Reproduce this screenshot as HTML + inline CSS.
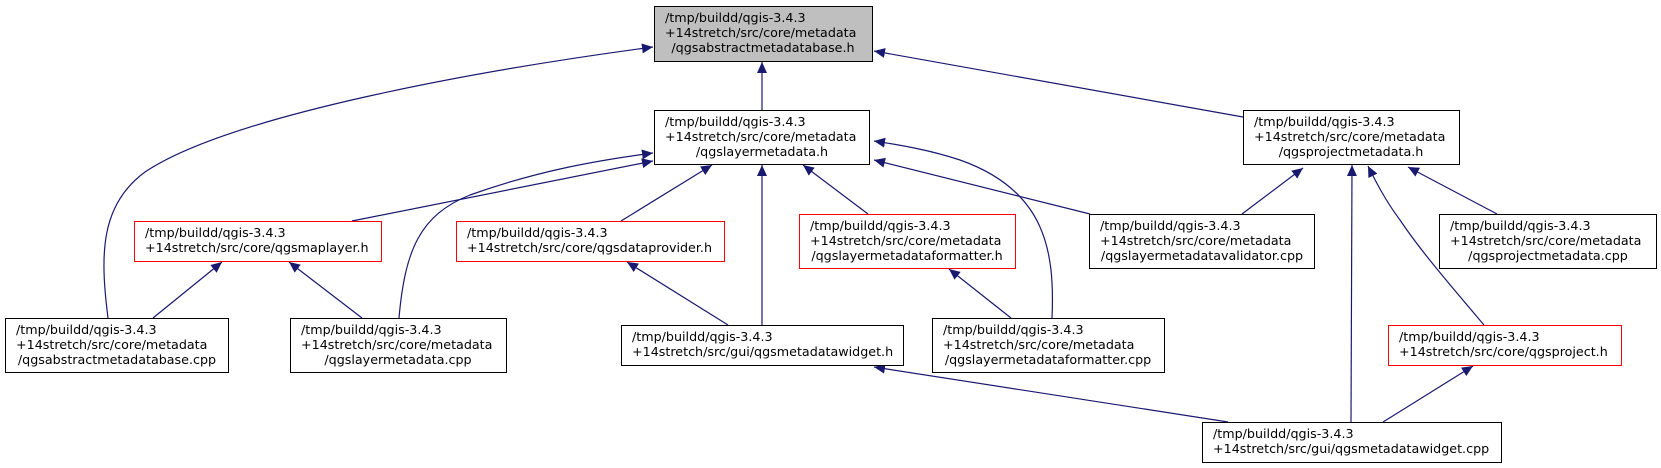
<!DOCTYPE html>
<html><head><meta charset="utf-8"><style>
html,body{margin:0;padding:0;background:#fff;}
svg{display:block;}
text{font-family:"DejaVu Sans","Liberation Sans",sans-serif;font-size:12.7px;fill:#000;}
</style></head><body>
<svg width="1661" height="468" viewBox="0 0 1661 468" xmlns="http://www.w3.org/2000/svg">
<defs>
<marker id="a" markerUnits="userSpaceOnUse" markerWidth="11" markerHeight="10" refX="11" refY="5" orient="auto">
<path d="M0,0 L11,5 L0,10 z" fill="#191970"/>
</marker>
</defs>
<g fill="none" stroke="#191970" stroke-width="1.2" marker-end="url(#a)">
<path d="M762,110 L762,62"/>
<path d="M1243,117 L874,51"/>
<path d="M108,318 C100,255 100,205 145,172 C230,115 480,70 653,47"/>
<path d="M352,221 L653,161"/>
<path d="M399,318 C405,250 420,215 470,195 C540,170 600,160 653,153"/>
<path d="M621,221 L712,165"/>
<path d="M762,325 L762,165"/>
<path d="M868,214 L803,165"/>
<path d="M1090,214 L874,160"/>
<path d="M1052,318 C1055,250 1045,190 960,160 C930,150 900,145 874,141"/>
<path d="M1242,214 L1303,168"/>
<path d="M1497,214 L1408,167"/>
<path d="M1351,422 L1352,165"/>
<path d="M1484,325 C1450,285 1420,250 1400,220 C1385,200 1375,180 1368,166"/>
<path d="M1383,422 L1473,366"/>
<path d="M1228,422 L874,367"/>
<path d="M1011,318 L949,269"/>
<path d="M153,318 L222,262"/>
<path d="M362,318 L289,262"/>
<path d="M728,325 L627,262"/>
</g>
<g stroke-width="1">
<rect x="654.5" y="6.5" width="218" height="55" fill="#bfbfbf" stroke="#000"/>
<rect x="654.5" y="110.5" width="215" height="54" fill="#fff" stroke="#000"/>
<rect x="1243.5" y="110.5" width="216" height="54" fill="#fff" stroke="#000"/>
<rect x="134.5" y="221.5" width="247" height="40" fill="#fff" stroke="#f00"/>
<rect x="456.5" y="221.5" width="268" height="40" fill="#fff" stroke="#f00"/>
<rect x="799.5" y="214.5" width="216" height="54" fill="#fff" stroke="#f00"/>
<rect x="1089.5" y="214.5" width="225" height="54" fill="#fff" stroke="#000"/>
<rect x="1439.5" y="214.5" width="217" height="54" fill="#fff" stroke="#000"/>
<rect x="5.5" y="318.5" width="223" height="54" fill="#fff" stroke="#000"/>
<rect x="290.5" y="318.5" width="216" height="54" fill="#fff" stroke="#000"/>
<rect x="621.5" y="325.5" width="282" height="40" fill="#fff" stroke="#000"/>
<rect x="932.5" y="318.5" width="232" height="54" fill="#fff" stroke="#000"/>
<rect x="1388.5" y="325.5" width="233" height="40" fill="#fff" stroke="#f00"/>
<rect x="1202.5" y="422.5" width="299" height="40" fill="#fff" stroke="#000"/>
</g>
<g>
<text x="665" y="22">/tmp/buildd/qgis-3.4.3</text><text x="665" y="37">+14stretch/src/core/metadata</text><text x="763" y="52" text-anchor="middle">/qgsabstractmetadatabase.h</text>
<text x="665" y="126">/tmp/buildd/qgis-3.4.3</text><text x="665" y="141">+14stretch/src/core/metadata</text><text x="762" y="156" text-anchor="middle">/qgslayermetadata.h</text>
<text x="1254" y="126">/tmp/buildd/qgis-3.4.3</text><text x="1254" y="141">+14stretch/src/core/metadata</text><text x="1351" y="156" text-anchor="middle">/qgsprojectmetadata.h</text>
<text x="145" y="237">/tmp/buildd/qgis-3.4.3</text><text x="145" y="252">+14stretch/src/core/qgsmaplayer.h</text>
<text x="467" y="237">/tmp/buildd/qgis-3.4.3</text><text x="467" y="252">+14stretch/src/core/qgsdataprovider.h</text>
<text x="810" y="230">/tmp/buildd/qgis-3.4.3</text><text x="810" y="245">+14stretch/src/core/metadata</text><text x="907" y="260" text-anchor="middle">/qgslayermetadataformatter.h</text>
<text x="1100" y="230">/tmp/buildd/qgis-3.4.3</text><text x="1100" y="245">+14stretch/src/core/metadata</text><text x="1202" y="260" text-anchor="middle">/qgslayermetadatavalidator.cpp</text>
<text x="1450" y="230">/tmp/buildd/qgis-3.4.3</text><text x="1450" y="245">+14stretch/src/core/metadata</text><text x="1548" y="260" text-anchor="middle">/qgsprojectmetadata.cpp</text>
<text x="16" y="334">/tmp/buildd/qgis-3.4.3</text><text x="16" y="349">+14stretch/src/core/metadata</text><text x="117" y="364" text-anchor="middle">/qgsabstractmetadatabase.cpp</text>
<text x="301" y="334">/tmp/buildd/qgis-3.4.3</text><text x="301" y="349">+14stretch/src/core/metadata</text><text x="398" y="364" text-anchor="middle">/qgslayermetadata.cpp</text>
<text x="632" y="341">/tmp/buildd/qgis-3.4.3</text><text x="632" y="356">+14stretch/src/gui/qgsmetadatawidget.h</text>
<text x="943" y="334">/tmp/buildd/qgis-3.4.3</text><text x="943" y="349">+14stretch/src/core/metadata</text><text x="1048" y="364" text-anchor="middle">/qgslayermetadataformatter.cpp</text>
<text x="1399" y="341">/tmp/buildd/qgis-3.4.3</text><text x="1399" y="356">+14stretch/src/core/qgsproject.h</text>
<text x="1213" y="438">/tmp/buildd/qgis-3.4.3</text><text x="1213" y="453">+14stretch/src/gui/qgsmetadatawidget.cpp</text>
</g>
</svg>
</body></html>
